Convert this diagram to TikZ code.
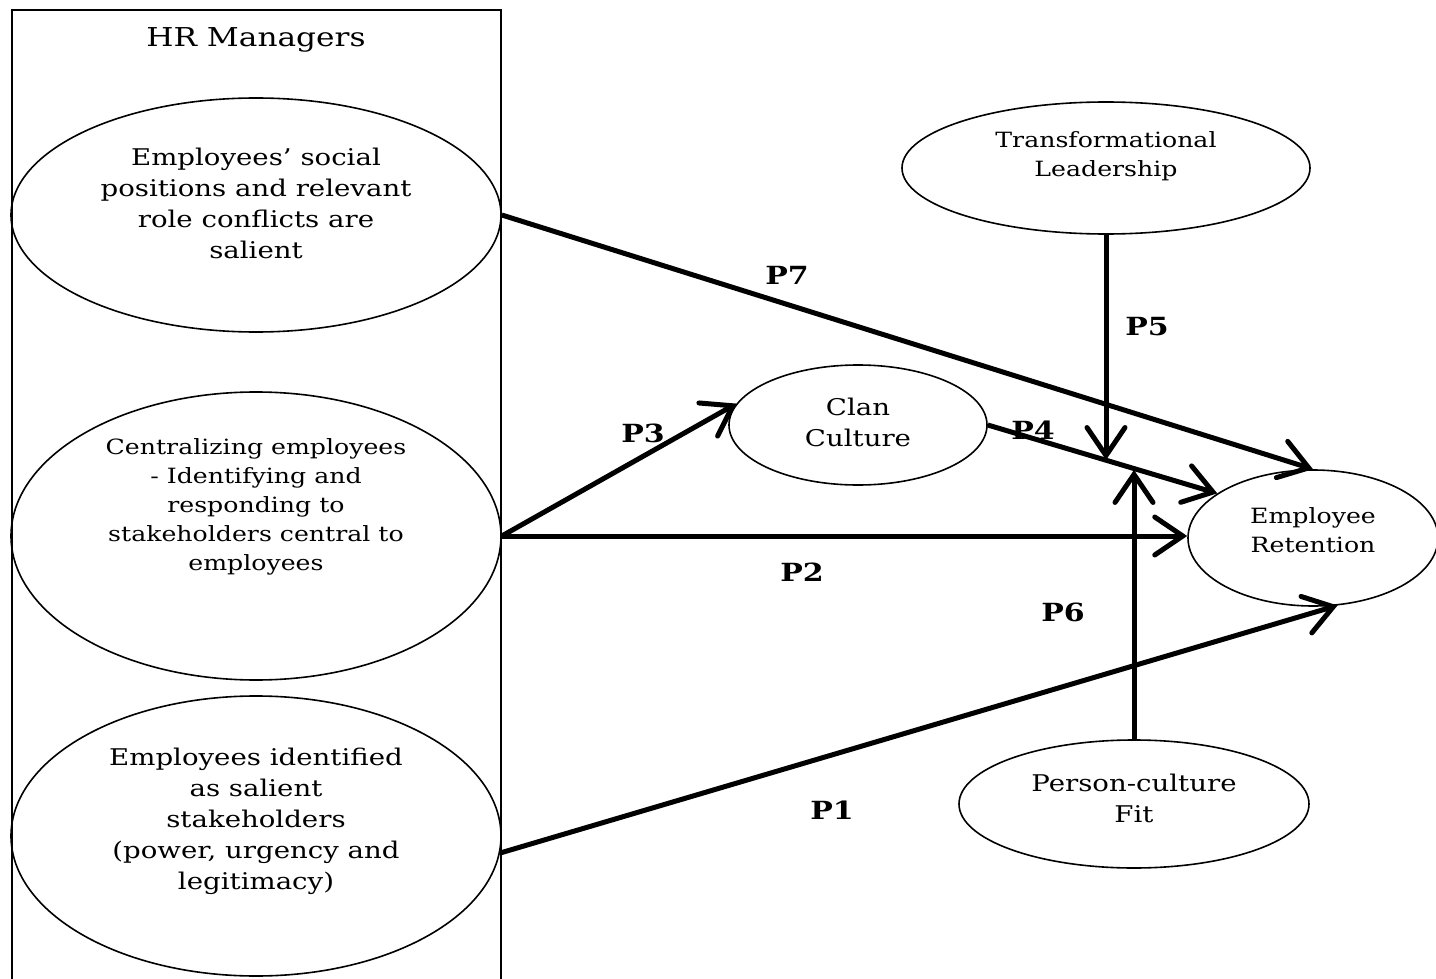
\documentclass[tikz,border=0pt]{standalone}
\usepackage{fontspec}
\setmainfont{DejaVu Serif}[FakeStretch=1.2]
\usepackage{tikz}
\usetikzlibrary{arrows.meta,shapes.geometric}

\tikzset{
  oval/.style={draw, ellipse, line width=0.8pt, inner sep=0pt},
  ovaltext/.style={align=center, font=\fontsize{11.5}{15.5}\selectfont},
  smalltext/.style={align=center, font=\fontsize{10.5}{14.5}\selectfont},
  link/.style={line width=2.5pt, -{Straight Barb[length=14pt,width=19pt,line cap=round]}},
  plabel/.style={font=\fontsize{12.5}{14}\selectfont\bfseries}
}

\begin{document}
\begin{tikzpicture}[x=0.5pt,y=-0.5pt]
    \useasboundingbox (0,0) rectangle (1436,979);
    \clip (0,0) rectangle (1436,979);
    \fill[color=white] (0,0) rectangle (1436,979);

    % HR managers frame
    \draw[line width=1pt] (12,10) rectangle (501,1000);
    \node[font=\fontsize{13}{16}\selectfont] (hr) at (256,40) {HR Managers};

    % ovals
    \node[oval, minimum width=245pt, minimum height=117pt] (emp1) at (256,215) {};
    \node[ovaltext] (emp1t) at (256,203) {Employees’ social\\positions and relevant\\role conflicts are\\salient};

    \node[oval, minimum width=245pt, minimum height=144pt] (emp2) at (256,536) {};
    \node[smalltext] (emp2t) at (256,507) {Centralizing employees\\- Identifying and\\responding to\\stakeholders central to\\employees};

    \node[oval, minimum width=245pt, minimum height=140pt] (emp3) at (256,836) {};
    \node[ovaltext] (emp3t) at (256,821) {Employees identified\\as salient\\stakeholders\\(power, urgency and\\legitimacy)};

    \node[oval, minimum width=204pt, minimum height=66pt] (tl) at (1106,168) {};
    \node[smalltext] (tlt) at (1106,156) {Transformational\\Leadership};

    \node[oval, minimum width=129pt, minimum height=60pt] (clan) at (858,425) {};
    \node[ovaltext] (clant) at (858,422) {Clan\\Culture};

    \node[oval, minimum width=125pt, minimum height=68pt] (ret) at (1313,538) {};
    \node[smalltext] (rett) at (1313,530) {Employee\\Retention};

    \node[oval, minimum width=175pt, minimum height=64pt] (fit) at (1134,804) {};
    \node[ovaltext] (fitt) at (1134,798) {Person-culture\\Fit};

    % free ends of the moderator arrows
    \coordinate (p5end) at (1106,460);
    \coordinate (p6end) at (1134,470);

    % propositions
    \draw[link] (emp1.east) -- (ret.north);
    \draw[link] (tl.south) -- (tl.south |- p5end);
    \draw[link] (emp2.east) -- (clan.170);
    \draw[link] (clan.east) -- (ret.155);
    \draw[link] (emp2.east) -- (emp2.east -| ret.west);
    \draw[link] (fit.north) -- (fit.north |- p6end);
    \draw[link] (emp3.-4) -- (ret.-70);

    \node[plabel] (l7) at (787,275) {P7};
    \node[plabel] (l5) at (1147,327) {P5};
    \node[plabel] (l3) at (643,433) {P3};
    \node[plabel] (l4) at (1033,430) {P4};
    \node[plabel] (l2) at (802,572) {P2};
    \node[plabel] (l6) at (1063,612) {P6};
    \node[plabel] (l1) at (832,810) {P1};
\end{tikzpicture}
\end{document}
